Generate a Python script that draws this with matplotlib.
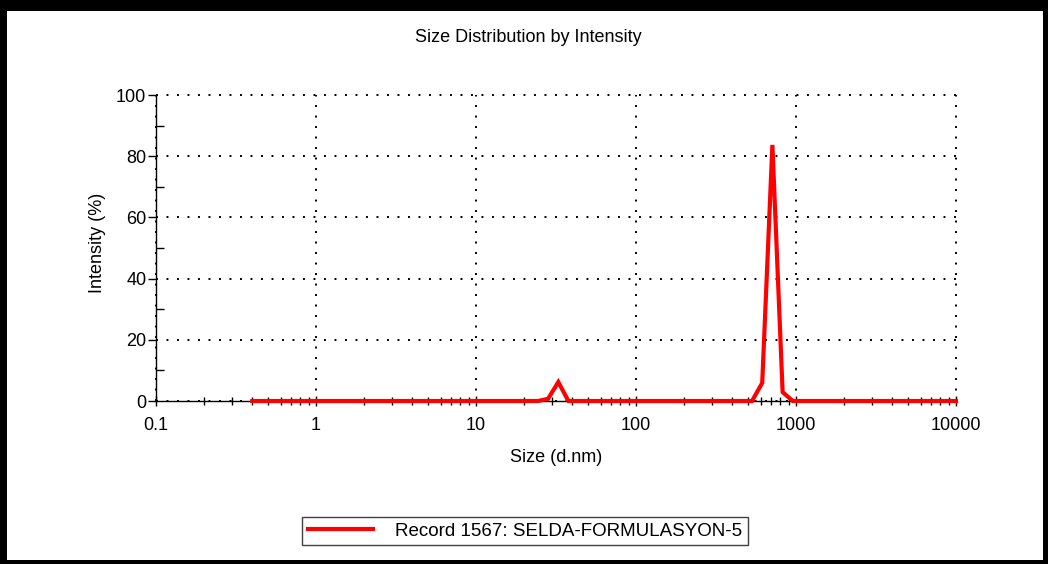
import numpy as np
import matplotlib
matplotlib.use("Agg")
import matplotlib.pyplot as plt
from matplotlib.patches import Rectangle
from matplotlib.ticker import FixedLocator, NullFormatter

plt.rcParams['font.family'] = ['Liberation Sans', 'DejaVu Sans']

# size bins (d.nm) where the curve changes, and intensity (%)
sizes = [0.4, 24.4, 28.2, 32.7, 37.8, 531, 615, 712, 825, 955, 10000]
intensity = [0, 0, 0.7, 6.2, 0, 0, 5.9, 83.7, 2.9, 0, 0]
record = "Record 1567: SELDA-FORMULASYON-5"

x_major = [0.1, 1, 10, 100, 1000, 10000]
x_labels = ['0.1', '1', '10', '100', '1000', '10000']
y_major = [0, 20, 40, 60, 80, 100]
y_minor = [10, 30, 50, 70, 90]

fig = plt.figure(figsize=(10.48, 5.64), dpi=100, facecolor='black')
fig.patches.append(Rectangle((7/1048, 4/564), 1036/1048, 549/564,
                             transform=fig.transFigure, facecolor='white',
                             edgecolor='none', zorder=-10))

ax = fig.add_axes([156/1048, 1-401/564, 800/1048, 306/564])
ax.set_facecolor('white')
line, = ax.plot(sizes, intensity, color='#ff0000', lw=3, label=record,
                solid_joinstyle='miter', zorder=3, clip_on=False)

ax.set_xscale('log')
ax.set_xlim(0.1, 10000)
ax.set_ylim(0, 100)
ax.xaxis.set_major_locator(FixedLocator(x_major))
ax.set_xticklabels(x_labels)
ax.xaxis.set_minor_locator(FixedLocator(
    [m * d for d in x_major[:-1] for m in range(2, 10)]))
ax.xaxis.set_minor_formatter(NullFormatter())
ax.yaxis.set_major_locator(FixedLocator(y_major))
ax.yaxis.set_minor_locator(FixedLocator(y_minor))

for s in ['top', 'right']:
    ax.spines[s].set_visible(False)
for s in ['left', 'bottom']:
    ax.spines[s].set_linewidth(1.0)

ax.tick_params(axis='y', which='major', direction='out', length=6, width=1,
               labelsize=13, pad=1)
ax.tick_params(axis='y', which='minor', direction='in', length=6, width=1)
ax.tick_params(axis='x', which='major', direction='inout', length=7, width=1,
               labelsize=13, pad=8)
ax.tick_params(axis='x', which='minor', direction='inout', length=6, width=1)

ax.grid(True, which='major', color='black', lw=1.4, linestyle=(0, (1, 4.4)))
for gl in ax.get_xgridlines() + ax.get_ygridlines():
    gl.set_clip_on(False)

fig.text(528/1048, 1-38/564, 'Size Distribution by Intensity',
         ha='center', va='center', fontsize=13)
fig.text(556/1048, 1-457/564, 'Size (d.nm)', ha='center', va='center',
         fontsize=13)
fig.text(97/1048, 1-243/564, 'Intensity (%)', ha='center', va='center',
         rotation=90, fontsize=13)

leg = fig.legend(handles=[line], loc='center',
                 bbox_to_anchor=(525/1048, 1-531/564),
                 fancybox=False, edgecolor='#404040', framealpha=1,
                 fontsize=13.5, handlelength=3.5, handletextpad=1.15,
                 borderpad=0.3, borderaxespad=0)
leg.get_frame().set_linewidth(1.0)

fig.savefig('out.png', dpi=100, facecolor='black')
